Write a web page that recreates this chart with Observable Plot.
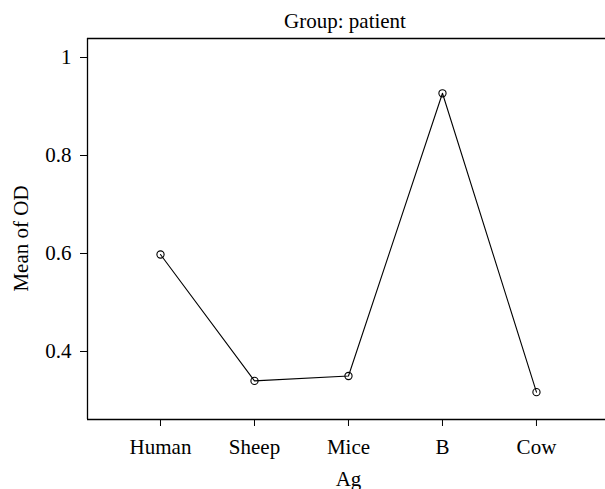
<!DOCTYPE html>
<html>
<head>
<meta charset="utf-8">
<script src="https://cdn.jsdelivr.net/npm/d3@7"></script>
<script src="https://cdn.jsdelivr.net/npm/@observablehq/plot@0.6"></script>
<style>
  html, body { margin: 0; padding: 0; background: #fff; overflow: hidden; }
  #chart svg { font-family: "Liberation Serif", "Times New Roman", serif; }
</style>
</head>
<body>
<div id="chart"></div>
<script>
// Data
const categories = ["Human", "Sheep", "Mice", "B", "Cow"];
const meanOD = [0.598, 0.340, 0.350, 0.927, 0.317];
const yTicks = [0.4, 0.6, 0.8, 1];
const titleText = "Group: patient";
const xLabel = "Ag";
const yLabel = "Mean of OD";

// category positions 1..n on a linear scale (the plot region runs past the right edge)
const data = categories.map((c, i) => ({pos: i + 1, ag: c, od: meanOD[i]}));
const xDomain = [0.2234, categories.length + 0.777];
const yDomain = [0.2612, 1.0388];

const plot = Plot.plot({
  width: 605,
  height: 489,
  marginLeft: 87,
  marginRight: 0,
  marginTop: 38,
  marginBottom: 70,
  style: {fontFamily: "Liberation Serif, Times New Roman, serif", fontSize: "21px", color: "black", background: "white"},
  x: {domain: xDomain, range: [87, 609], label: null},
  y: {domain: yDomain, label: null},
  marks: [
    Plot.ruleY(yDomain, {stroke: "black", strokeWidth: 1.3}),
    Plot.ruleX([xDomain[0]], {stroke: "black", strokeWidth: 1.3}),
    Plot.axisY({ticks: yTicks, tickSize: 7, tickPadding: 9, tickFormat: d => String(d), label: null, fontSize: 21}),
    Plot.axisX({ticks: data.map(d => d.pos), tickSize: 7, tickPadding: 13, tickFormat: p => categories[p - 1], label: null, fontSize: 21}),
    Plot.line(data, {x: "pos", y: "od", stroke: "black", strokeWidth: 1.1}),
    Plot.dot(data, {x: "pos", y: "od", r: 3.6, stroke: "black", strokeWidth: 1.1, fill: "none"}),
    Plot.text([titleText], {text: d => d, frameAnchor: "top", textAnchor: "middle", lineAnchor: "bottom", dy: -11, dx: -1.5, fontSize: 21, fill: "black"}),
    Plot.text([xLabel], {text: d => d, frameAnchor: "bottom", textAnchor: "middle", lineAnchor: "bottom", dy: 66, dx: 2, fontSize: 21, fill: "black"}),
    Plot.text([yLabel], {text: d => d, frameAnchor: "left", textAnchor: "middle", lineAnchor: "bottom", rotate: -90, dx: -60, dy: 9.5, fontSize: 21, fill: "black"})
  ]
});
document.getElementById("chart").appendChild(plot);
</script>
</body>
</html>
